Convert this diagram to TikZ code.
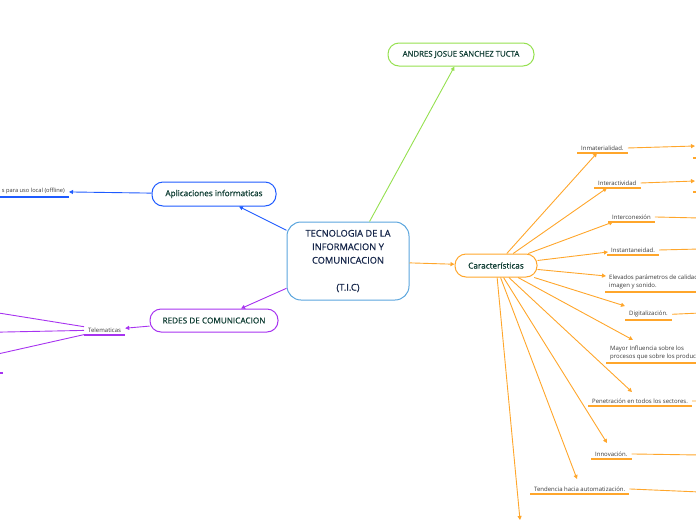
\documentclass[tikz,border=0pt]{standalone}
\usepackage{fontspec}
\setmainfont{Open Sans}
\newfontfamily\topicfont[FakeBold=0.8]{Open Sans}
\usetikzlibrary{arrows.meta}
\definecolor{ticcol}{HTML}{5AA5DD}
\definecolor{autorcol}{HTML}{95E04F}
\definecolor{aplcol}{HTML}{1E5BFF}
\definecolor{redcol}{HTML}{A733F0}
\definecolor{carcol}{HTML}{FFA62B}
\definecolor{topictext}{HTML}{0F3D33}
\definecolor{tictext}{HTML}{16264A}
\definecolor{leaftext}{HTML}{383838}
\tikzstyle{topic}=[draw, rounded corners=11pt, line width=1pt, text=topictext,
                font=\topicfont\fontsize{8.2}{9}\selectfont, inner sep=0pt]
\tikzstyle{leaf}=[text=leaftext, font=\fontsize{6}{8}\selectfont, inner xsep=4pt,
                inner ysep=2.5pt, align=left]
\tikzstyle{con}=[-{Triangle[length=4pt,width=4pt]}, line width=0.9pt]
\tikzstyle{uline}=[line width=1.8pt]

\begin{document}
\begin{tikzpicture}[x=1pt,y=-1pt]
    \useasboundingbox (0,0) rectangle (696,520);
    \clip (0,0) rectangle (696,520);

    % central topic
    \node[topic, draw=ticcol, rounded corners=14pt, minimum width=122pt, minimum height=78pt,
          font=\topicfont\fontsize{9.3}{13.5}\selectfont, align=center, text=tictext] (tic) at (348,261)
          {TECNOLOGIA DE LA\\INFORMACION Y\\COMUNICACION\\\mbox{}\\(T.I.C)};

    % main topics
    \node[topic, draw=autorcol, minimum width=146pt, minimum height=23pt,
          font=\topicfont\fontsize{7.8}{9}\selectfont] (autor) at (461,54.5) {ANDRES JOSUE SANCHEZ TUCTA};
    \node[topic, draw=aplcol, minimum width=124pt, minimum height=24pt] (aplic) at (214,194) {Aplicaciones informaticas};
    \node[topic, draw=redcol, minimum width=128pt, minimum height=23pt] (redes) at (214,320.5) {REDES DE COMUNICACION};
    \node[topic, draw=carcol, minimum width=82pt, minimum height=23pt] (carac) at (496,265.5) {Características};

    % connect central topic with main topics
    \draw[con, autorcol] (tic) -- (autor);
    \draw[con, aplcol] (tic) -- (aplic);
    \draw[con, redcol] (tic) -- (redes);
    \draw[con, carcol] (tic) -- (carac);

    % left side subtopics
    \node[leaf, anchor=south east, inner xsep=4pt, font=\fontsize{5.7}{8}\selectfont] (offl) at (69,197) {s para uso local (offline)};
    \node[leaf, anchor=south west] (tele) at (84,335) {Telematicas};
    \draw[uline, aplcol] (offl.south west) -- (offl.south east);
    \draw[uline, redcol] (tele.south west) -- (tele.south east);
    \draw[con, aplcol] (aplic) -- (offl);
    \draw[con, redcol] (redes) -- (tele);

    % telematicas branches (leaving the page)
    \coordinate (tl1) at (-20,310);
    \coordinate (tl2) at (-20,332.5);
    \coordinate (tl3) at (-20,358);
    \foreach \dest in {tl1,tl2,tl3}
        \draw[con, redcol] (tele) -- (\dest);
    \draw[uline, redcol] (-10,373) -- (3,373);

    % caracteristicas subtopics
    \node[leaf, anchor=south west] (inm) at (577,153) {Inmaterialidad.};
    \node[leaf, anchor=south west] (inter) at (594,188) {Interactividad};
    \node[leaf, anchor=south west] (icon) at (608,222) {Interconexión};
    \node[leaf, anchor=south west] (inst) at (607,255) {Instantaneidad.};
    \node[leaf, anchor=south west] (elev) at (605,292) {Elevados parámetros de calidad de\\imagen y sonido.};
    \node[leaf, anchor=south west] (digi) at (625,320) {Digitalización.};
    \node[leaf, anchor=south west] (mayor) at (606,363) {Mayor Influencia sobre los\\procesos que sobre los productos.};
    \node[leaf, anchor=south west] (pene) at (588,406) {Penetración en todos los sectores.};
    \node[leaf, anchor=south west] (innov) at (591,459) {Innovación.};
    \node[leaf, anchor=south west] (tend) at (530,494) {Tendencia hacia automatización.};

    \foreach \leaf in {inm,inter,icon,inst,elev,digi,mayor,pene,innov,tend}
        \draw[uline, carcol] (\leaf.south west) -- (\leaf.south east);

    % connect caracteristicas with its subtopics
    \foreach \leaf/\dx/\dy in {inm/20/0, inter/13/0, icon/5/0, inst/1/3, elev/1/16,
                               digi/0/14, mayor/27/23, pene/44/14, innov/16/16, tend/47/15}
        \draw[con, carcol] (carac) -- ([shift={(\dx pt,\dy pt)}]\leaf.south west);
    \coordinate (bot) at (520,520);
    \draw[con, carcol] (carac) -- (bot);

    % branches leaving the page on the right
    \coordinate (r1) at (695,146);
    \coordinate (r2) at (695,181);
    \draw[con, carcol] (inm.east) -- (r1);
    \draw[con, carcol] (inter.east) -- (r2);
    \draw[uline, carcol] (693,158) -- (700,158);
    \draw[uline, carcol] (693,192) -- (700,192);
    \foreach \leaf/\y in {icon/218, inst/249, digi/313, pene/401, innov/455, tend/492}
        \draw[line width=0.9pt, carcol] (\leaf.east) -- (700,\y);

\end{tikzpicture}
\end{document}
